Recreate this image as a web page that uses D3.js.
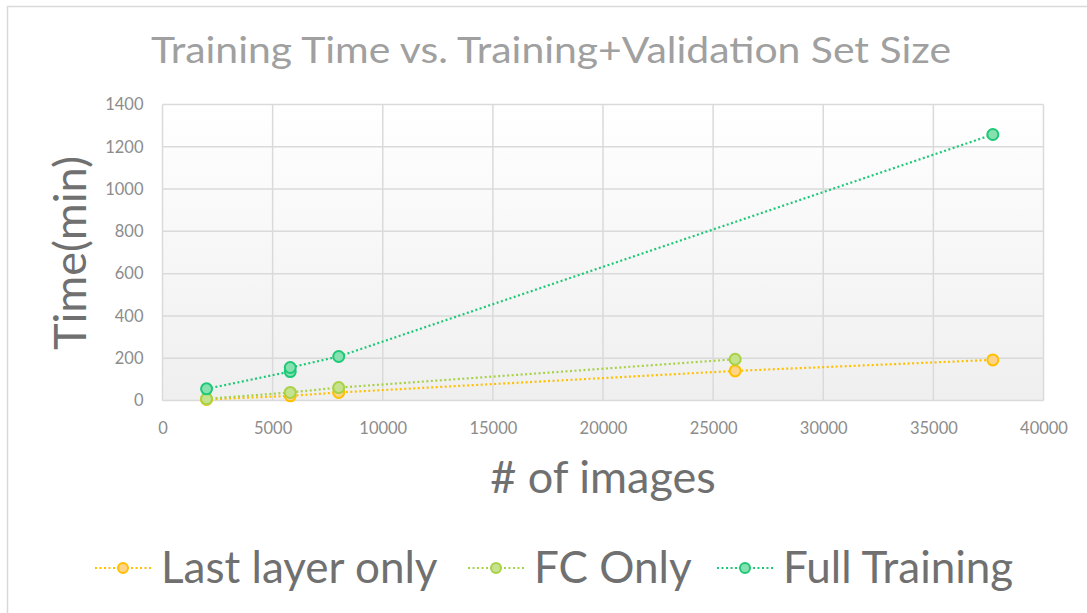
<!DOCTYPE html>
<html><head><meta charset="utf-8">
<script src="https://cdn.jsdelivr.net/npm/d3@7"></script>
<style>body{margin:0;background:#fff}svg{display:block}</style>
</head><body>
<svg id="c" width="1087" height="613"></svg>
<script>
const title = "Training Time vs. Training+Validation Set Size";
const xTicks = [0,5000,10000,15000,20000,25000,30000,35000,40000];
const yTicks = [0,200,400,600,800,1000,1200,1400];
const seriesNames = ["Last layer only","FC Only","Full Training"];
const lastLayerX = [2000,5800,8000,26000,37700];
const lastLayerY = [5,22,38,140,192];
const fcOnlyX = [2000,5800,8000,26000];
const fcOnlyY = [8,38,61,195];
const fullX = [2000,5800,5800,8000,37700];
const fullY = [55,137,156,208,1258];
const strokeColors = ["#FFC000","#A9D146","#1DC977"];
const fillColors = ["#FFD38A","#C5E38C","#86E0B0"];

const svg = d3.select("#c");
const font = "Lato, 'Open Sans', sans-serif";
// frame
svg.append("rect").attr("x",7.5).attr("y",6.5).attr("width",1200).attr("height",800)
  .attr("fill","none").attr("stroke","#d9d9d9").attr("stroke-width",1.5);

const L=162.5,R=1043.5,T=104.5,B=400.5;
const x = d3.scaleLinear().domain([0,40000]).range([L,R]);
const y = d3.scaleLinear().domain([0,1400]).range([B,T]);

const defs = svg.append("defs");
const g = defs.append("linearGradient").attr("id","bg").attr("x1",0).attr("y1",0).attr("x2",0).attr("y2",1);
g.append("stop").attr("offset","0%").attr("stop-color","#ffffff");
g.append("stop").attr("offset","100%").attr("stop-color","#efefef");
svg.append("rect").attr("x",L).attr("y",T).attr("width",R-L).attr("height",B-T).attr("fill","url(#bg)");

// grid
svg.append("g").selectAll("line").data(xTicks).join("line")
  .attr("x1",d=>x(d)).attr("x2",d=>x(d)).attr("y1",T).attr("y2",B)
  .attr("stroke","#dadada").attr("stroke-width",1.5);
svg.append("g").selectAll("line").data(yTicks).join("line")
  .attr("x1",L).attr("x2",R).attr("y1",d=>y(d)).attr("y2",d=>y(d))
  .attr("stroke","#dadada").attr("stroke-width",1.5);

// axes
const xa = svg.append("g").attr("transform",`translate(0,${B})`)
  .call(d3.axisBottom(x).tickValues(xTicks).tickSize(0).tickPadding(22).tickFormat(d3.format("d")));
const ya = svg.append("g").attr("transform",`translate(${L},0)`)
  .call(d3.axisLeft(y).tickValues(yTicks).tickSize(0).tickPadding(19).tickFormat(d3.format("d")));
[xa,ya].forEach(a=>{a.select(".domain").remove();
  a.selectAll("text").attr("fill","#8c8c8c").attr("font-size",16.5).attr("font-family",font);});

// title & axis titles
svg.append("text").attr("x",551).attr("y",63).attr("text-anchor","middle")
  .attr("font-family",font).attr("font-size",36).attr("fill","#a0a0a0")
  .attr("textLength",800).attr("lengthAdjust","spacingAndGlyphs").text(title);
svg.append("text").attr("x",603).attr("y",493).attr("text-anchor","middle")
  .attr("font-family",font).attr("font-size",45).attr("fill","#707070").text("# of images");
svg.append("text").attr("transform","translate(86,253) rotate(-90)").attr("text-anchor","middle")
  .attr("font-family",font).attr("font-size",45).attr("fill","#707070").text("Time(min)");

const series = [
  {name:seriesNames[0], xs:lastLayerX, ys:lastLayerY, i:0},
  {name:seriesNames[1], xs:fcOnlyX, ys:fcOnlyY, i:1},
  {name:seriesNames[2], xs:fullX, ys:fullY, i:2}
];
const line = d3.line().x(d=>x(d[0])).y(d=>y(d[1]));
series.forEach(s=>{
  const pts = s.xs.map((v,k)=>[v,s.ys[k]]);
  svg.append("path").attr("d",line(pts)).attr("fill","none")
    .attr("stroke",strokeColors[s.i]).attr("stroke-width",2.2).attr("stroke-dasharray","2,2.5");
  svg.append("g").selectAll("circle").data(pts).join("circle")
    .attr("cx",d=>x(d[0])).attr("cy",d=>y(d[1])).attr("r",5.5)
    .attr("fill",fillColors[s.i]).attr("stroke",strokeColors[s.i]).attr("stroke-width",2);
});

// legend
const legX = [95,468,717];
const ly = 568;
series.forEach((s,k)=>{
  const x0 = legX[k];
  svg.append("line").attr("x1",x0).attr("x2",x0+56).attr("y1",ly).attr("y2",ly)
    .attr("stroke",strokeColors[k]).attr("stroke-width",2).attr("stroke-dasharray","2,2.5");
  svg.append("circle").attr("cx",x0+28).attr("cy",ly).attr("r",5)
    .attr("fill",fillColors[k]).attr("stroke",strokeColors[k]).attr("stroke-width",2);
  svg.append("text").attr("x",x0+66).attr("y",ly+15).attr("font-family",font)
    .attr("font-size",44).attr("fill","#707070").text(s.name);
});
</script>
</body></html>
